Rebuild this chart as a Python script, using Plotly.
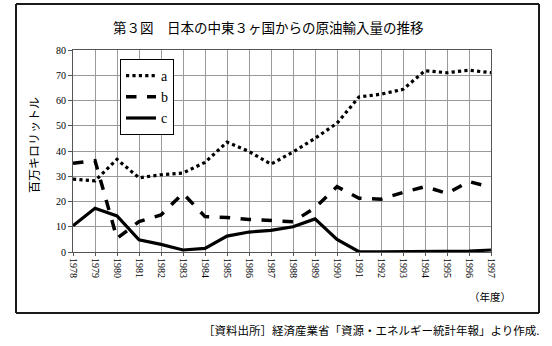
import plotly.graph_objects as go

years = list(range(1978, 1998))
series_a = [28.9, 28.2, 36.7, 29.4, 30.6, 31.3, 35.5, 43.5, 39.8, 34.8,
            39.6, 45.0, 51.0, 61.4, 62.5, 64.4, 71.8, 71.0, 72.0, 71.0]
series_b = [35.1, 36.2, 5.4, 12.0, 14.7, 23.2, 14.0, 13.7, 12.9, 12.3,
            12.0, 17.5, 25.9, 21.3, 20.9, 23.6, 25.9, 23.2, 27.9, 25.6]
series_c = [10.4, 17.3, 14.3, 4.8, 3.0, 0.8, 1.4, 6.3, 7.9, 8.6,
            10.0, 13.1, 5.0, 0.1, 0.1, 0.1, 0.1, 0.1, 0.4, 0.8]
names = ["a", "b", "c"]
y_ticks = [0, 10, 20, 30, 40, 50, 60, 70, 80]

serif = "Liberation Serif, DejaVu Serif, serif"
jp = "Noto Sans CJK JP, sans-serif"

# plot area in pixels: left 73, right 491, top 50, bottom 252
PL, PR, PT, PB = 73, 491, 50, 252


def px(x):
    return (x - PL) / (PR - PL)


def py(y):
    return (PB - y) / (PB - PT)


fig = go.Figure()
fig.add_trace(go.Scatter(x=years, y=series_a, name=names[0], mode="lines",
                         line=dict(color="black", width=3.2, dash="dot")))
fig.add_trace(go.Scatter(x=years, y=series_b, name=names[1], mode="lines",
                         line=dict(color="black", width=3.5, dash="dash")))
fig.add_trace(go.Scatter(x=years, y=series_c, name=names[2], mode="lines",
                         line=dict(color="black", width=3.2)))

fig.update_layout(
    width=552, height=346,
    margin=dict(l=PL, r=552 - PR, t=PT, b=346 - PB),
    paper_bgcolor="white", plot_bgcolor="white",
    showlegend=True,
    legend=dict(x=px(120), y=py(59), xanchor="left", yanchor="top",
                bgcolor="white", bordercolor="black", borderwidth=1,
                font=dict(family=serif, size=14, color="black"),
                itemwidth=30, tracegroupgap=0),
    xaxis=dict(range=[1978, 1997], tickmode="array", tickvals=years,
               ticktext=[str(y) for y in years], tickangle=90,
               tickfont=dict(family=serif, size=10, color="black"),
               showgrid=True, gridcolor="#9a9a9a", gridwidth=1,
               showline=True, linecolor="#555", mirror=True,
               ticks="outside", ticklen=3, tickcolor="#555", zeroline=False),
    yaxis=dict(range=[0, 80], tickmode="array", tickvals=y_ticks,
               tickfont=dict(family=serif, size=10, color="black"),
               showgrid=True, gridcolor="#9a9a9a", gridwidth=1,
               showline=True, linecolor="#555", mirror=True,
               ticks="outside", ticklen=4, tickcolor="#555", zeroline=False),
)

# outer frame around the figure, drawn as four edges
left, right, top, bottom = px(16), px(539), py(4), py(313)
for x0, y0, x1, y1 in [(left, bottom, left, top), (right, bottom, right, top),
                       (left, top, right, top), (left, bottom, right, bottom)]:
    fig.add_shape(type="line", xref="paper", yref="paper",
                  x0=x0, y0=y0, x1=x1, y1=y1,
                  line=dict(color="#1a1a1a", width=2))

fig.add_annotation(text="第３図　日本の中東３ヶ国からの原油輸入量の推移",
                   xref="paper", yref="paper", x=px(268), y=py(27),
                   xanchor="center", yanchor="middle",
                   showarrow=False, font=dict(family=jp, size=13.5, color="black"))
fig.add_annotation(text="百万キロリットル", textangle=-90,
                   xref="paper", yref="paper", x=px(33), y=py(145),
                   xanchor="center", yanchor="middle",
                   showarrow=False, font=dict(family=jp, size=12, color="black"))
fig.add_annotation(text="（年度）", xref="paper", yref="paper",
                   x=px(490), y=py(296), xanchor="center", yanchor="middle",
                   showarrow=False, font=dict(family=jp, size=10.5, color="black"))
fig.add_annotation(text="［資料出所］経済産業省「資源・エネルギー統計年報」より作成.",
                   xref="paper", yref="paper", x=px(541), y=py(330),
                   xanchor="right", yanchor="middle", showarrow=False,
                   font=dict(family=jp, size=11.5, color="black"))

fig.write_html("out.html")
